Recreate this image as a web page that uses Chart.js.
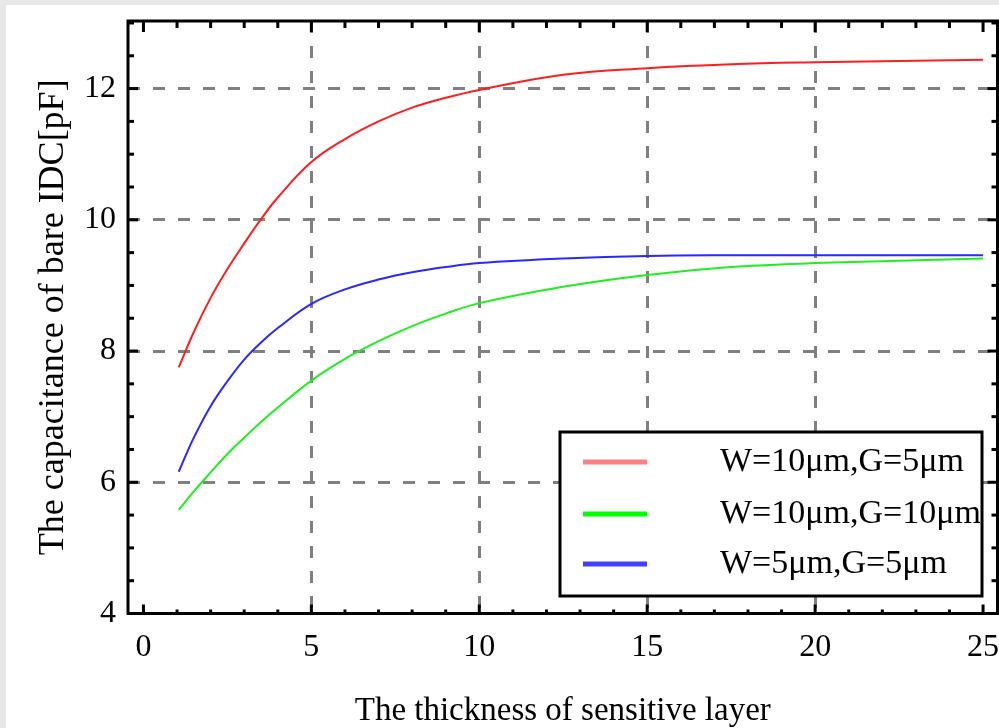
<!DOCTYPE html>
<html>
<head>
<meta charset="utf-8">
<script src="https://cdn.jsdelivr.net/npm/chart.js@4.4.0/dist/chart.umd.min.js"></script>
<style>
    html, body { margin: 0; padding: 0; background: #e8e8e8; }
    #wrap { position: absolute; left: 6px; top: 5px; width: 993px; height: 723px; background: #fff; }
</style>
</head>
<body>
<div id="wrap"><canvas id="cap_chart" width="993" height="723"></canvas></div>
<script>
// values
const thickness = [1.05, 1.5, 2, 2.5, 3, 3.5, 4, 5, 6, 7, 8, 9, 10, 12.5, 15, 17.5, 20, 25];
const w10g5  = [7.75, 8.29, 8.81, 9.25, 9.64, 10.01, 10.34, 10.88, 11.23, 11.50, 11.71, 11.86, 11.98, 12.21, 12.31, 12.37, 12.40, 12.44];
const w10g10 = [5.58, 5.86, 6.15, 6.43, 6.68, 6.92, 7.14, 7.55, 7.88, 8.15, 8.38, 8.57, 8.73, 8.98, 9.16, 9.28, 9.34, 9.41];
const w5g5   = [6.16, 6.68, 7.16, 7.54, 7.87, 8.13, 8.35, 8.72, 8.94, 9.09, 9.20, 9.28, 9.34, 9.41, 9.45, 9.46, 9.46, 9.46];

const seriesLabels = ['W=10μm,G=5μm', 'W=10μm,G=10μm', 'W=5μm,G=5μm'];
const xTicks = [0, 5, 10, 15, 20, 25];
const yTicks = [4, 6, 8, 10, 12];

const serif = '"Liberation Serif", "DejaVu Serif", serif';

const toPoints = (values) => thickness.map((t, i) => ({ x: t, y: values[i] }));

const makeSet = (label, values, color, legendColor) => ({
    label: label,
    data: toPoints(values),
    borderColor: color,
    legendColor: legendColor,
    borderWidth: 2,
    pointRadius: 0,
    fill: false,
    tension: 0.4
});

// frame, inward ticks and boxed legend
const framePlugin = {
    id: 'frame',
    beforeDraw(chart) {
        const ctx = chart.ctx;
        ctx.save();
        ctx.fillStyle = '#fff';
        ctx.fillRect(0, 0, chart.width, chart.height);
        ctx.restore();
    },
    afterDraw(chart) {
        const ctx = chart.ctx;
        const a = chart.chartArea;
        const xs = chart.scales.x;
        const ys = chart.scales.y;
        ctx.save();
        ctx.fillStyle = '#000';
        for (let v = 0; v <= 25; v++) {
            const px = xs.getPixelForValue(v);
            const major = v % 5 === 0;
            const lb = major ? 9 : 4;
            const lt = major ? 11 : 7;
            ctx.fillRect(px - 1.5, a.bottom - lb, 3, lb);
            ctx.fillRect(px - 1.5, a.top, 3, lt);
        }
        for (let v = 4; v <= 13; v += 0.5) {
            const py = ys.getPixelForValue(v);
            const len = v % 2 === 0 ? 10 : 6;
            ctx.fillRect(a.left, py - 1.5, len, 3);
            ctx.fillRect(a.right - len, py - 1.5, len, 3);
        }
        ctx.lineWidth = 3;
        ctx.strokeStyle = '#000';
        ctx.strokeRect(a.left, a.top, a.right - a.left, a.bottom - a.top);

        // legend box
        const bw = 422, bh = 164;
        const bx = a.right - 15.5 - bw;
        const by = a.bottom - 17.5 - bh;
        ctx.fillStyle = '#fff';
        ctx.fillRect(bx, by, bw, bh);
        ctx.strokeRect(bx, by, bw, bh);
        ctx.beginPath();
        ctx.rect(bx + 2, by + 2, bw - 4, bh - 4);
        ctx.clip();
        const rows = [30, 82, 132];
        ctx.font = '34px ' + serif;
        ctx.textBaseline = 'middle';
        ctx.textAlign = 'left';
        chart.data.datasets.forEach((ds, i) => {
            const ry = by + rows[i];
            ctx.strokeStyle = ds.legendColor;
            ctx.lineWidth = 5;
            ctx.beginPath();
            ctx.moveTo(bx + 23, ry);
            ctx.lineTo(bx + 87, ry);
            ctx.stroke();
            ctx.fillStyle = '#000';
            ctx.fillText(ds.label, bx + 160, ry);
        });
        ctx.restore();
    }
};

const gridColor = (skip) => (c) => (c.tick && skip.includes(c.tick.value)) ? 'rgba(0,0,0,0)' : '#808080';

new Chart(document.getElementById('cap_chart'), {
    type: 'line',
    data: {
        datasets: [
            makeSet(seriesLabels[0], w10g5, 'rgb(255,30,30)', '#ff8080'),
            makeSet(seriesLabels[1], w10g10, 'rgb(30,240,30)', '#00ff00'),
            makeSet(seriesLabels[2], w5g5, 'rgb(40,40,255)', '#4040ff')
        ]
    },
    options: {
        responsive: false,
        animation: false,
        layout: { padding: { top: 16, right: 1.5, left: 0, bottom: 0 } },
        plugins: {
            legend: { display: false },
            tooltip: { enabled: false }
        },
        scales: {
            x: {
                type: 'linear',
                min: -0.46,
                max: 25.43,
                afterBuildTicks: (s) => { s.ticks = xTicks.map(v => ({ value: v })); },
                afterFit: (s) => { s.height = 114.5; s.paddingLeft = 0; s.paddingRight = 0; },
                grid: { color: gridColor([0, 25]), lineWidth: 3, drawTicks: false },
                border: { display: false, dash: [12, 13] },
                ticks: { color: '#000', padding: 15, maxRotation: 0, font: { family: serif, size: 32 } },
                title: {
                    display: true,
                    text: 'The thickness of sensitive layer',
                    color: '#000',
                    padding: 0,
                    font: { family: serif, size: 33, lineHeight: 1 }
                }
            },
            y: {
                min: 4,
                max: 13.03,
                afterBuildTicks: (s) => { s.ticks = yTicks.map(v => ({ value: v })); },
                afterFit: (s) => { s.width = 122; s.paddingTop = 0; s.paddingBottom = 0; },
                grid: { color: gridColor([4]), lineWidth: 3, drawTicks: false },
                border: { display: false, dash: [12, 13] },
                ticks: { color: '#000', padding: 12, font: { family: serif, size: 32 } },
                title: {
                    display: true,
                    text: 'The capacitance of bare IDC[pF]',
                    color: '#000',
                    padding: { top: 26, bottom: 0 },
                    font: { family: serif, size: 36, lineHeight: 1.2 }
                }
            }
        }
    },
    plugins: [framePlugin]
});
</script>
</body>
</html>
